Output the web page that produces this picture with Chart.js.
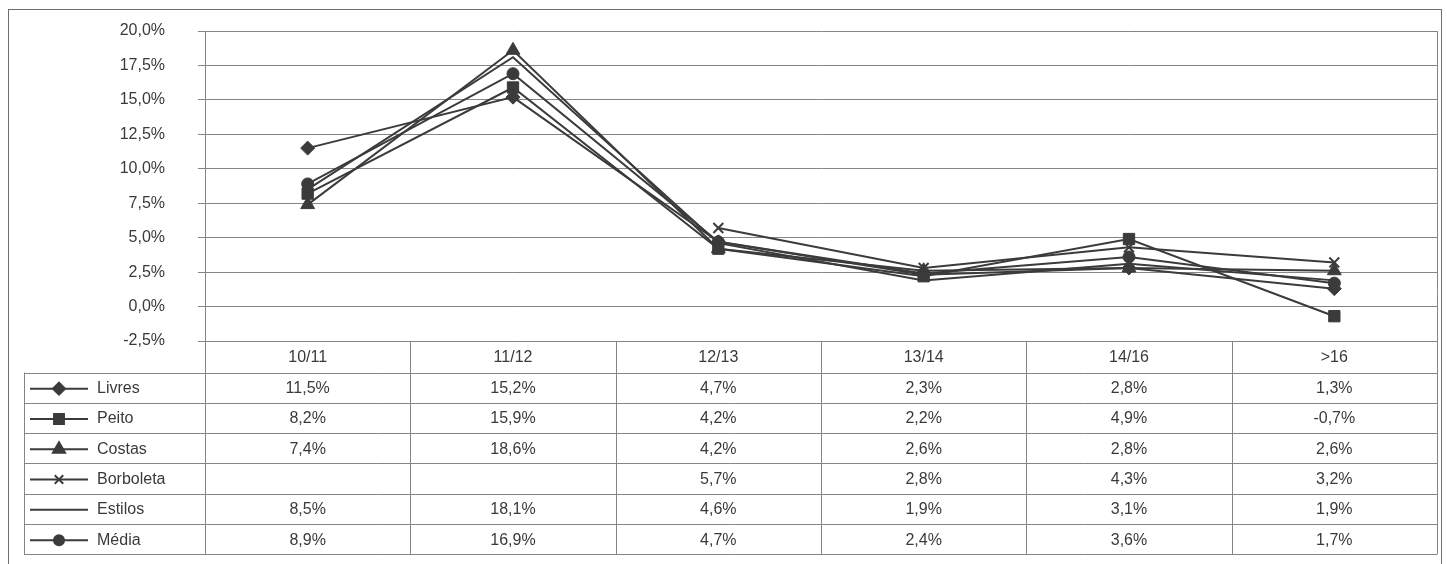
<!DOCTYPE html>
<html>
<head>
<meta charset="utf-8">
<script src="https://cdn.jsdelivr.net/npm/chart.js@4/dist/chart.umd.min.js"></script>
<style>
  body { margin: 0; background: #fff; }
  #wrap { width: 1447px; height: 564px; }
</style>
</head>
<body>
<div id="wrap"><canvas id="grafico" width="1447" height="564"></canvas></div>
<script>
var categorias = ['10/11', '11/12', '12/13', '13/14', '14/16', '>16'];
var livres     = [11.5, 15.2, 4.7, 2.3, 2.8, 1.3];
var peito      = [8.2, 15.9, 4.2, 2.2, 4.9, -0.7];
var costas     = [7.4, 18.6, 4.2, 2.6, 2.8, 2.6];
var borboleta  = [null, null, 5.7, 2.8, 4.3, 3.2];
var estilos    = [8.5, 18.1, 4.6, 1.9, 3.1, 1.9];
var media      = [8.9, 16.9, 4.7, 2.4, 3.6, 1.7];
var nomes      = ['Livres', 'Peito', 'Costas', 'Borboleta', 'Estilos', 'Média'];
var simbolos   = ['rectRot', 'rect', 'triangle', 'crossRot', false, 'circle'];
var raios      = [7, 8, 8, 7, 0, 6];

var cor = '#3b3b3b';
var grade = '#858585';
var texto = '#3a3a3a';
var fonte = '"Liberation Sans", Arial, sans-serif';

function pct(v) {
    return v.toFixed(1).replace('.', ',') + '%';
}

var series = [livres, peito, costas, borboleta, estilos, media];
var datasets = series.map(function (s, i) {
    return {
        label: nomes[i],
        data: s,
        borderColor: cor,
        backgroundColor: cor,
        borderWidth: 2,
        pointStyle: simbolos[i],
        pointRadius: raios[i],
        pointHoverRadius: raios[i],
        pointBorderWidth: simbolos[i] === 'crossRot' ? 2 : 1,
        tension: 0,
        fill: false
    };
});

// tabela de dados desenhada por baixo do gráfico
var tabela = {
    id: 'tabela',
    beforeDraw: function (chart) {
        var c = chart.ctx;
        c.save();
        c.strokeStyle = '#6e6e6e';
        c.lineWidth = 1;
        c.strokeRect(8.5, 9.5, 1433, 570);
        c.restore();
    },
    afterDraw: function (chart) {
        var c = chart.ctx;
        var x = chart.scales.x;
        var area = chart.chartArea;
        var passo = x.getPixelForValue(1) - x.getPixelForValue(0);
        var topo = area.bottom;
        var cab = 31.5;
        var linha = 30.3;
        var esq = 24;
        var fundo = topo + cab + linha * nomes.length;

        c.save();
        c.strokeStyle = grade;
        c.lineWidth = 1;
        c.beginPath();
        // borda direita do gráfico
        c.moveTo(Math.round(area.right) + 0.5, area.top);
        c.lineTo(Math.round(area.right) + 0.5, fundo);
        for (var k = 0; k <= categorias.length; k++) {
            var xx = Math.round(x.getPixelForValue(0) - passo / 2 + k * passo) + 0.5;
            c.moveTo(xx, topo);
            c.lineTo(xx, fundo);
        }
        for (var r = 0; r <= nomes.length; r++) {
            var yy = Math.round(topo + cab + r * linha) + 0.5;
            c.moveTo(esq, yy);
            c.lineTo(area.right, yy);
        }
        c.moveTo(esq + 0.5, topo + cab);
        c.lineTo(esq + 0.5, fundo);
        c.stroke();

        c.fillStyle = texto;
        c.font = '16px ' + fonte;
        c.textAlign = 'center';
        c.textBaseline = 'middle';
        categorias.forEach(function (cat, i) {
            c.fillText(cat, x.getPixelForValue(i), topo + cab / 2 + 1);
        });
        series.forEach(function (s, r) {
            var yc = topo + cab + r * linha + linha / 2 + 1;
            c.textAlign = 'center';
            s.forEach(function (v, i) {
                if (v !== null) c.fillText(pct(v), x.getPixelForValue(i), yc);
            });
            // legenda
            c.strokeStyle = cor;
            c.lineWidth = 2;
            c.beginPath();
            c.moveTo(30, yc);
            c.lineTo(88, yc);
            c.stroke();
            if (simbolos[r]) {
                c.fillStyle = cor;
                Chart.helpers.drawPoint(c, {
                    pointStyle: simbolos[r],
                    radius: raios[r] - 1,
                    borderWidth: simbolos[r] === 'crossRot' ? 2 : 1
                }, 59, yc);
            }
            c.fillStyle = texto;
            c.textAlign = 'left';
            c.fillText(nomes[r], 97, yc);
        });
        c.restore();
    }
};

var ctx = document.getElementById('grafico').getContext('2d');
var grafico = new Chart(ctx, {
    type: 'line',
    data: { labels: categorias, datasets: datasets },
    options: {
        responsive: false,
        animation: false,
        spanGaps: false,
        layout: { padding: { left: 0, right: 10, top: 31, bottom: 223 } },
        plugins: {
            legend: { display: false },
            tooltip: { enabled: false }
        },
        scales: {
            x: {
                display: false,
                offset: true
            },
            y: {
                min: -2.5,
                max: 20,
                afterFit: function (scale) {
                    scale.width = 205;
                    scale.paddingTop = 0;
                    scale.paddingBottom = 0;
                },
                border: { display: true, color: grade, width: 1 },
                grid: { color: grade, lineWidth: 1, tickLength: 7, drawTicks: true },
                ticks: {
                    stepSize: 2.5,
                    padding: 33,
                    color: texto,
                    font: { family: fonte, size: 16 },
                    callback: function (v) { return pct(v); }
                }
            }
        }
    },
    plugins: [tabela]
});
</script>
</body>
</html>
